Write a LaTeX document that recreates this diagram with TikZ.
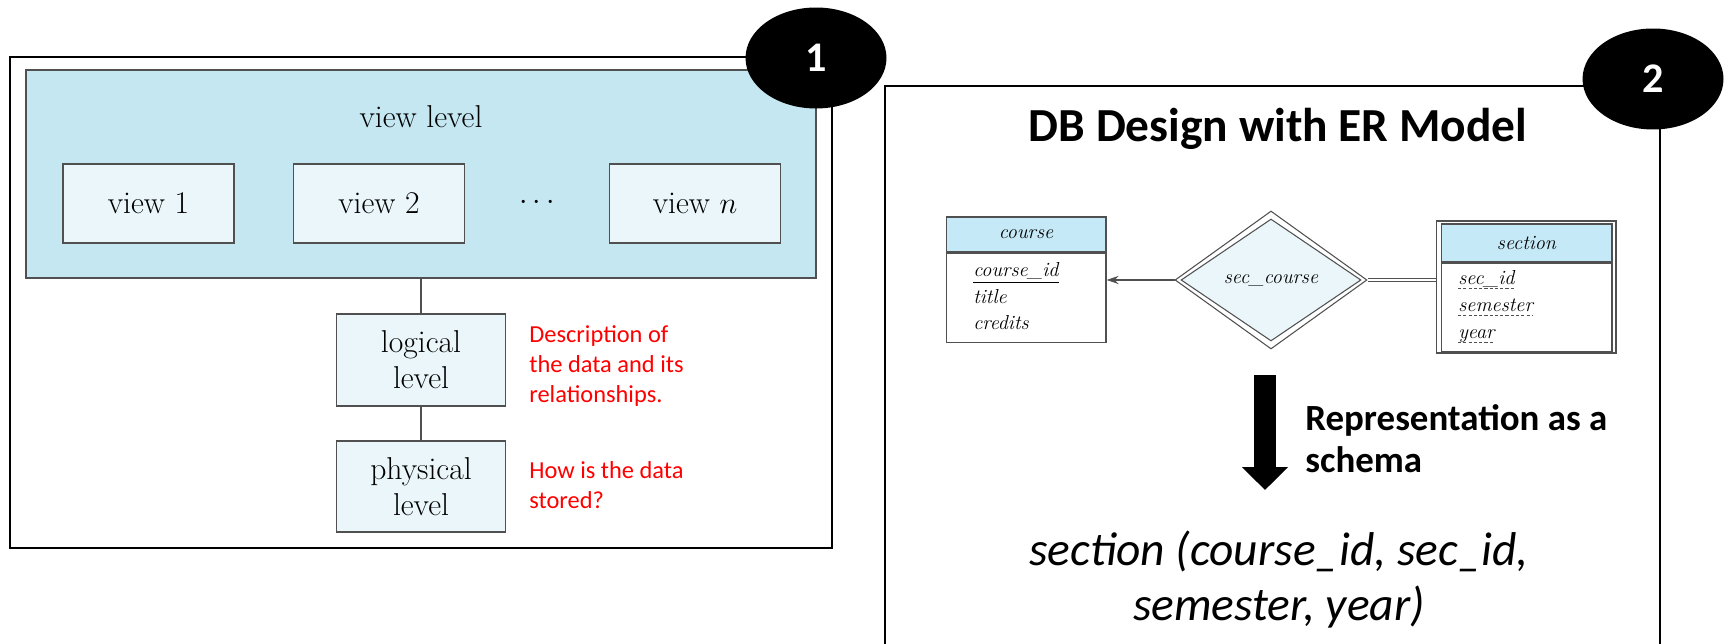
\documentclass[tikz,border=0pt]{standalone}
\usepackage{fontspec}
\newfontfamily\calibri{Carlito}
\usetikzlibrary{shapes.geometric,arrows.meta,positioning}

\definecolor{viewblue}{RGB}{196,231,242}
\definecolor{paleblue}{RGB}{234,246,250}
\definecolor{headblue}{RGB}{197,233,247}
\definecolor{boxgray}{RGB}{80,80,80}

\tikzset{
	frame/.style={line width=1.3pt, draw=black},
	levelbox/.style={draw=boxgray, line width=1pt, fill=paleblue, align=center, font=\fontsize{18}{20.5}\selectfont},
	leveltext/.style={font=\fontsize{18}{20.5}\selectfont},
	link/.style={draw=boxgray, line width=0.7pt},
	note/.style={anchor=west, inner sep=0, align=left, text=red, font=\calibri\fontsize{13.9}{17}\selectfont},
	badge/.style={ellipse, fill=black, text=white, minimum width=2.82cm, minimum height=2.02cm, font=\calibri\bfseries\fontsize{24}{28}\selectfont},
	entity/.style={draw=boxgray, line width=0.6pt, fill=white, inner sep=0, font=\itshape\fontsize{11.5}{14}\selectfont},
	relation/.style={diamond, draw=boxgray, line width=0.6pt, fill=white, inner sep=0, font=\itshape\fontsize{11.5}{14}\selectfont},
	attr/.style={anchor=base west, inner sep=0, font=\itshape\fontsize{11.5}{14}\selectfont},
	keyline/.style={draw=boxgray, line width=0.5pt, dash pattern=on 1.8pt off 1.2pt}
}

\begin{document}
\begin{tikzpicture}[x=0.02cm, y=-0.02cm]
	\useasboundingbox (0,0) rectangle (1733,644);
	
	%%%%% LEVELS %%%%%
	
	\draw[frame] (10,57) rectangle (832,548);
	
	\node[levelbox, fill=viewblue, minimum width=15.8cm, minimum height=4.16cm] (viewlvl) at (421,174) {};
	\node[leveltext] (viewlbl) at (421,117) {view level};
	
	\node[levelbox, minimum width=3.42cm, minimum height=1.58cm] (view1) at (148.5,203.5) {view 1};
	\node[levelbox, minimum width=3.42cm, minimum height=1.58cm] (view2) at (379,203.5) {view 2};
	\node[leveltext] (dots) at (537,203) {$\cdots$};
	\node[levelbox, minimum width=3.42cm, minimum height=1.58cm] (viewn) at (695,203.5) {view $n$};
	
	\node[levelbox, minimum width=3.38cm, minimum height=1.84cm] (logical) at (421,360) {logical\\level};
	\node[levelbox, minimum width=3.38cm, minimum height=1.82cm] (physical) at (421,486.5) {physical\\level};
	
	\draw[link] (viewlvl.south) -- (logical.north);
	\draw[link] (logical.south) -- (physical.north);
	
	\node[note] (logicnote) at (529,366) {Description of\\the data and its\\relationships.};
	\node[note] (physnote) at (529,485.5) {How is the data\\stored?};
	
	%%%%% ER MODEL %%%%%
	
	\draw[frame] (885,650) -- (885,86) -- (1660,86) -- (1660,650);
	
	\node[font=\calibri\bfseries\fontsize{27}{32}\selectfont] (title) at (1278,129) {DB Design with ER Model};
	
	\node[entity, fill=headblue, minimum width=3.2cm, minimum height=0.7cm] (course) at (1026,234.5) {course};
	\node[entity, minimum width=3.2cm, minimum height=1.78cm, below=0pt of course] (coursebody) {};
	\node[attr] (cid) at (973,277) {\underline{course\_id}};
	\node[attr] (ctitle) at (973,304) {title};
	\node[attr] (ccred) at (973,330) {credits};
	
	\node[relation, minimum width=3.84cm, minimum height=2.76cm] (rel) at (1271,280) {};
	\node[relation, fill=paleblue, minimum width=3.6cm, minimum height=2.44cm] (relin) at (1271,280) {sec\_course};
	
	\node[entity, minimum width=3.6cm, minimum height=2.64cm] (section) at (1526,287) {};
	\node[entity, fill=headblue, minimum width=3.42cm, minimum height=0.76cm] (sechead) at (1526.5,243) {section};
	\node[entity, minimum width=3.42cm, minimum height=1.76cm, below=0pt of sechead] (secbody) {};
	\node[attr] (sid) at (1458,285) {sec\_id};
	\node[attr] (ssem) at (1458,312) {semester};
	\node[attr] (syear) at (1458,339) {year};
	\draw[keyline] ([yshift=-0.06cm]sid.base west) -- ([yshift=-0.06cm]sid.base east);
	\draw[keyline] ([yshift=-0.06cm]ssem.base west) -- ([yshift=-0.06cm]ssem.base east);
	\draw[keyline] ([yshift=-0.06cm]syear.base west) -- ([yshift=-0.06cm]syear.base east);
	
	\draw[link, line width=0.6pt, -{Stealth[length=0.24cm, width=0.16cm]}] (rel.west) -- (rel.west -| coursebody.east);
	\draw[link, line width=0.6pt, double, double distance=0.05cm] (rel.east) -- (rel.east -| section.west);
	
	%%%%% SCHEMA %%%%%
	
	\coordinate (schtop) at (1265,375);
	\coordinate (schtip) at (1265,490);
	\draw[line width=0.44cm, -{Triangle[length=0.46cm, width=0.9cm]}] (schtop) -- (schtip);
	
	\node[anchor=west, align=left, inner sep=0, font=\calibri\bfseries\fontsize{21}{24}\selectfont] (schlbl) at (1305,439) {Representation as a\\schema};
	
	\node[align=center, font=\calibri\itshape\fontsize{27}{31.3}\selectfont] (schema) at (1279,580) {section (course\_id, sec\_id,\\semester, year)};
	
	%%%%% BADGES %%%%%
	
	\node[badge] (badge1) at (816,58) {1};
	\node[badge] (badge2) at (1653,79) {2};
	
\end{tikzpicture}
\end{document}
